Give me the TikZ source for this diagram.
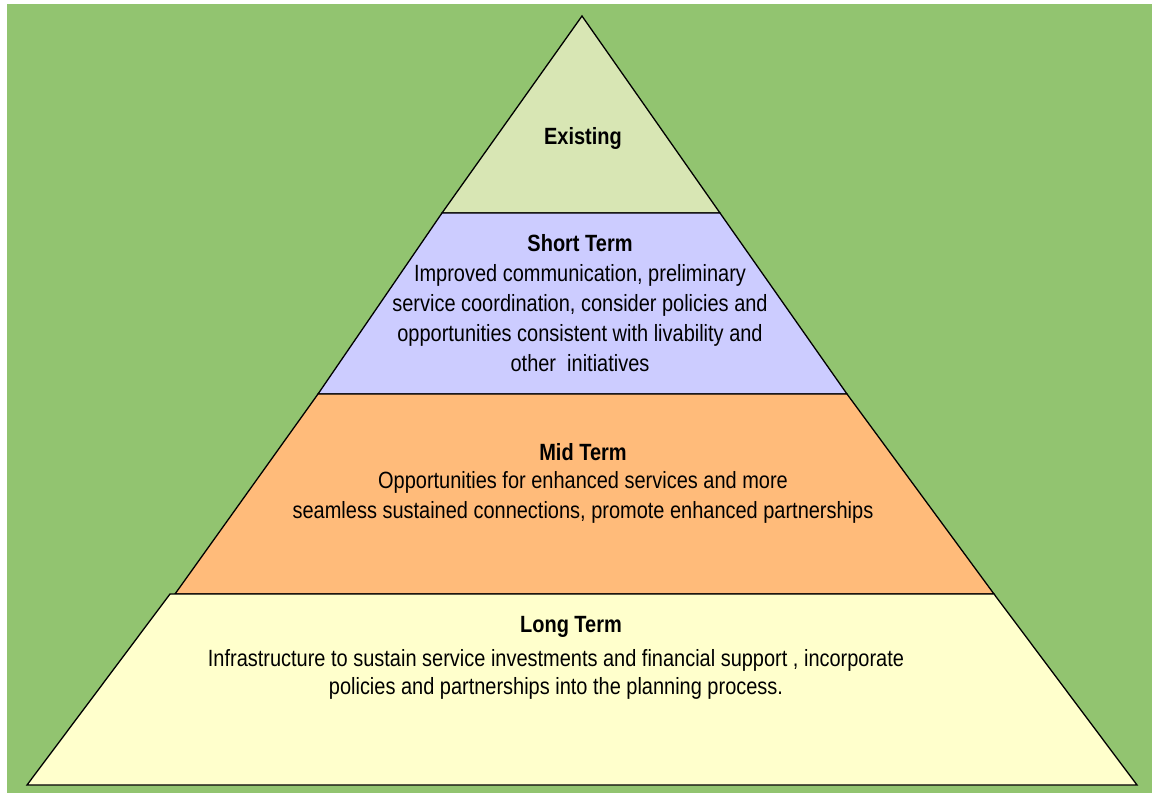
\documentclass[tikz,border=0pt]{standalone}
\usepackage{fontspec}
\setmainfont{Liberation Sans}[FakeStretch=0.85]

\definecolor{lawn}{RGB}{146,196,112}
\definecolor{existfill}{RGB}{216,230,180}
\definecolor{shortfill}{RGB}{204,204,255}
\definecolor{midfill}{RGB}{255,187,122}
\definecolor{longfill}{RGB}{255,255,204}

\begin{document}
\begin{tikzpicture}[x=1pt,y=-1pt,
    band/.style={draw=black, line width=1.3pt, line join=miter},
    title/.style={font=\fontsize{23.5}{30}\selectfont\bfseries, inner sep=0pt},
    body/.style={align=center, font=\fontsize{23.5}{30}\selectfont, inner sep=0pt}]
  \useasboundingbox (0,0) rectangle (1152,793);
  \fill[lawn] (7,4) rectangle (1152,793);

  % the four layers, top to bottom
  \draw[band, fill=existfill] (582,16) -- (720,213) -- (442,213) -- cycle;
  \draw[band, fill=shortfill] (442,213) -- (720,213) -- (847,394) -- (318,394) -- cycle;
  \draw[band, fill=midfill] (318,394) -- (847,394) -- (994,594) -- (175,594) -- cycle;
  \draw[band, fill=longfill] (170,594) -- (994,594) -- (1137,785) -- (27,785) -- cycle;

  \node[title] (existing) at (583,138) {Existing};

  \node[title] (short-title) at (580,243) {Short Term};
  \node[body] (short-text) at (580,318) {Improved communication, preliminary\\
    service coordination, consider policies and\\
    opportunities consistent with livability and\\
    other\ \ initiatives};

  \node[title] (mid-title) at (583,452) {Mid Term};
  \node[body] (mid-text) at (583,497) {Opportunities for enhanced services and more\\
    seamless sustained connections, promote enhanced partnerships};

  \node[title] (long-title) at (571,627) {Long Term};
  \node[body, font=\fontsize{23.5}{28}\selectfont] (long-text) at (556,674) {Infrastructure to sustain service investments and financial support , incorporate\\
    policies and partnerships into the planning process.};
\end{tikzpicture}
\end{document}
